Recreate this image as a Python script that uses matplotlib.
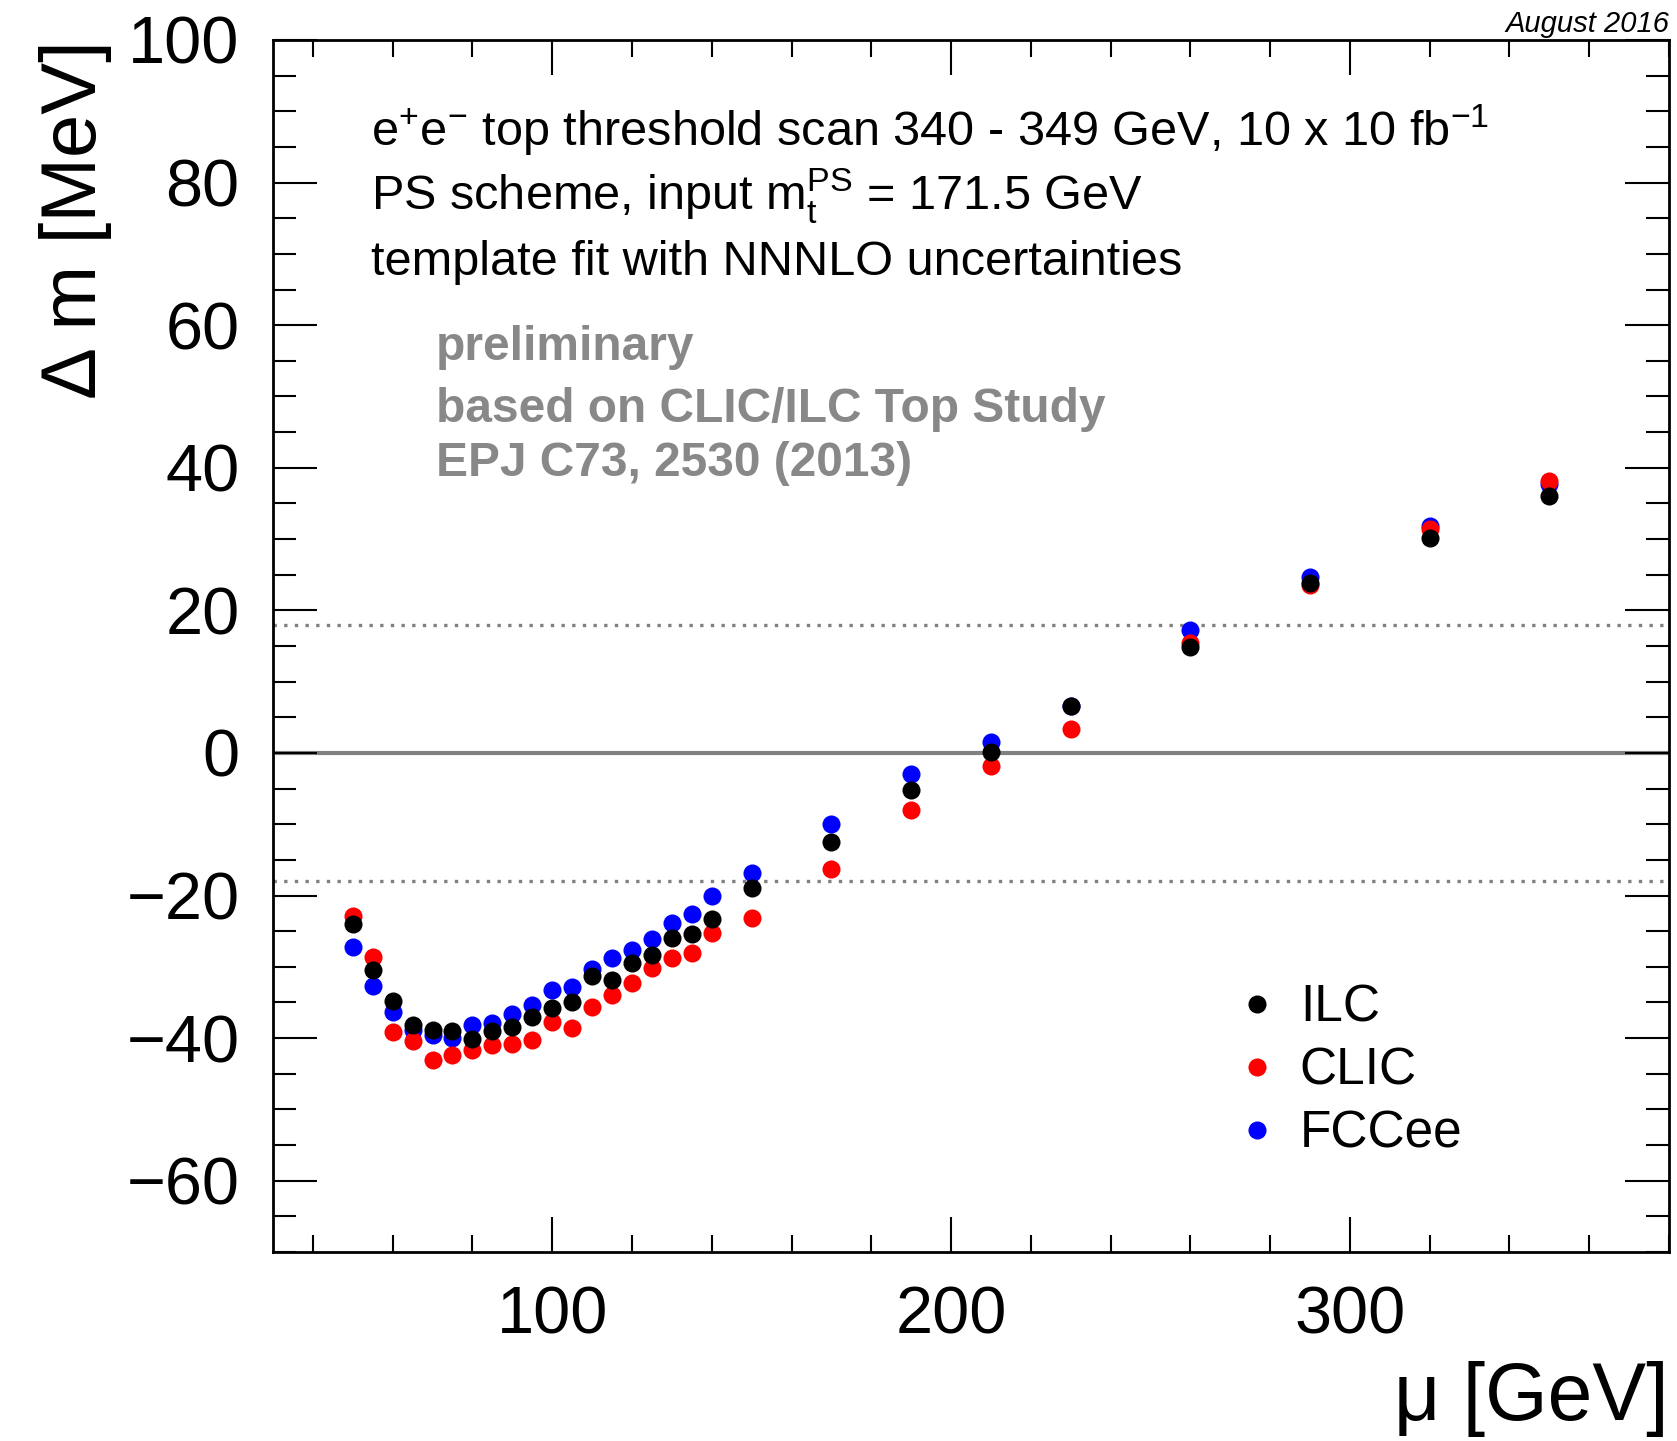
import matplotlib
matplotlib.use("Agg")
import matplotlib.pyplot as plt
from matplotlib.lines import Line2D
from matplotlib.ticker import MultipleLocator

# top mass shift vs renormalisation scale mu, three collider scenarios
mu = [50, 55, 60, 65, 70, 75, 80, 85, 90, 95, 100, 105, 110, 115, 120, 125, 130,
      135, 140, 150, 170, 190, 210, 230, 260, 290, 320, 350]
ilc = [-24.0, -30.4, -34.8, -38.1, -38.8, -39.0, -40.1, -39.0, -38.5, -37.1, -35.8,
       -35.0, -31.3, -31.8, -29.4, -28.3, -25.9, -25.4, -23.3, -18.9, -12.5, -5.2,
       0.1, 6.6, 14.9, 23.9, 30.2, 36.0]
clic = [-22.9, -28.6, -39.2, -40.4, -43.0, -42.3, -41.7, -41.0, -40.8, -40.3, -37.7,
        -38.6, -35.6, -34.0, -32.2, -30.2, -28.7, -28.1, -25.2, -23.1, -16.3, -8.0,
        -1.8, 3.4, 15.4, 23.5, 31.4, 38.2]
fcc = [-27.2, -32.7, -36.3, -38.8, -39.5, -40.0, -38.2, -37.9, -36.6, -35.4, -33.2,
       -32.8, -30.3, -28.7, -27.6, -26.1, -23.8, -22.6, -20.1, -16.8, -10.0, -3.0,
       1.5, 6.6, 17.3, 24.7, 31.8, 37.7]
band = 18  # dotted lines at +-18 MeV

plt.rcParams['font.family'] = ['Liberation Sans', 'DejaVu Sans']
plt.rcParams['mathtext.fontset'] = 'custom'
plt.rcParams['mathtext.rm'] = 'Liberation Sans'
plt.rcParams['mathtext.it'] = 'Liberation Sans:italic'

W, H = 1677, 1441
fig = plt.figure(figsize=(W / 100, H / 100), dpi=100)

def fx(x):
    return x / W

def fy(y):
    return 1 - y / H

ax = fig.add_axes([fx(273), fy(1252), (1669 - 273) / W, (1252 - 40) / H])
ax.set_xlim(30, 380)
ax.set_ylim(-70, 100)

ax.axhline(0, color="#808080", lw=3.0, zorder=1)
ax.axhline(band, color="#808080", lw=2.4, ls=(0, (1, 2.2)), zorder=1)
ax.axhline(-band, color="#808080", lw=2.4, ls=(0, (1, 2.2)), zorder=1)

ms = 13
ax.plot(mu, fcc, "o", color="blue", ms=ms, mew=0, zorder=3)
ax.plot(mu, clic, "o", color="red", ms=ms, mew=0, zorder=4)
ax.plot(mu, ilc, "o", color="black", ms=ms, mew=0, zorder=5)

# ticks, ROOT style: inside, on all sides
ax.xaxis.set_major_locator(MultipleLocator(100))
ax.xaxis.set_minor_locator(MultipleLocator(20))
ax.yaxis.set_major_locator(MultipleLocator(20))
ax.yaxis.set_minor_locator(MultipleLocator(5))
ax.tick_params(axis="both", which="both", direction="in", top=True, right=True, width=1.5)
ax.tick_params(axis="x", which="major", length=25, pad=24, labelsize=48)
ax.tick_params(axis="x", which="minor", length=12)
ax.tick_params(axis="y", which="major", length=32, pad=24, labelsize=48)
ax.tick_params(axis="y", which="minor", length=16.5)
ax.set_yticks([-60, -40, -20, 0, 20, 40, 60, 80, 100])
for s in ax.spines.values():
    s.set_linewidth(2.0)

fig.text(fx(1669), fy(1420), "μ [GeV]", ha="right", va="baseline", fontsize=58)
fig.text(fx(112), fy(40), "Δ m [MeV]", ha="right", va="top", rotation=90, fontsize=56)

# annotations
fig.text(fx(371), fy(146), r"e$^{+}$e$^{-}$ top threshold scan 340 - 349 GeV, 10 x 10 fb$^{-1}$",
         fontsize=35, va="baseline")
fig.text(fx(371), fy(211), r"PS scheme, input m$_{\mathrm{t}}^{\mathrm{PS}}$ = 171.5 GeV",
         fontsize=35, va="baseline")
fig.text(fx(371), fy(275), "template fit with NNNLO uncertainties", fontsize=35, va="baseline")
gray = "#888888"
fig.text(fx(436), fy(360), "preliminary", fontsize=34.5, fontweight="bold", color=gray, va="baseline")
fig.text(fx(436), fy(422), "based on CLIC/ILC Top Study", fontsize=34.5, fontweight="bold",
         color=gray, va="baseline")
fig.text(fx(436), fy(476), "EPJ C73, 2530 (2013)", fontsize=34.5, fontweight="bold",
         color=gray, va="baseline")
fig.text(fx(1669), fy(32), "August 2016", fontsize=21, style="italic", ha="right", va="baseline")

handles = [Line2D([], [], ls="none", marker="o", color=c, ms=ms, mew=0)
           for c in ["black", "red", "blue"]]
ax.legend(handles, ["ILC", "CLIC", "FCCee"], loc="upper left",
          bbox_to_anchor=(fx(1231), fy(984)), bbox_transform=fig.transFigure,
          frameon=False, fontsize=37, handlelength=1.0, handletextpad=0.34,
          labelspacing=0.27, borderpad=0, borderaxespad=0)

fig.savefig("out.png", dpi=100)
